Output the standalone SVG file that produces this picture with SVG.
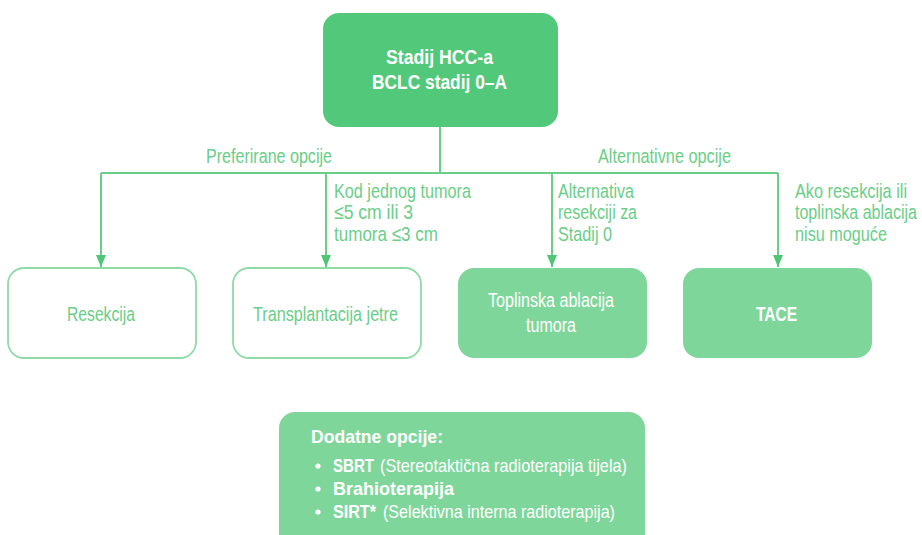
<svg xmlns="http://www.w3.org/2000/svg" width="922" height="535" viewBox="0 0 922 535">
<defs>
<marker id="arr" viewBox="0 0 12 10" refX="12" refY="5" markerWidth="12" markerHeight="10" markerUnits="userSpaceOnUse" orient="auto">
<path d="M0,0 L12,5 L0,10 z" fill="#4FC676"/>
</marker>
<style>
text{font-family:"Liberation Sans",Arial,sans-serif;}
.lbl{font-size:20.5px;fill:#6ACE88;}
.w{font-size:20.5px;fill:#ffffff;}
.wb{font-size:20.5px;fill:#ffffff;font-weight:bold;}
.g{font-size:20.5px;fill:#6ACE88;}
.s{font-size:19px;fill:#ffffff;}
.sb{font-size:19px;fill:#ffffff;font-weight:bold;}
.conn{stroke:#6ACE88;stroke-width:2;fill:none;}
.out{fill:#ffffff;stroke:#8EDBA6;stroke-width:1.8;}
.lt{fill:#7FD69B;}
</style>
</defs>
<rect width="922" height="535" fill="#ffffff"/>
<g id="connectors">
<path class="conn" d="M440,127 V173 M101,173 H778"/>
<path class="conn" d="M101,173 V267" marker-end="url(#arr)"/>
<path class="conn" d="M326,173 V267" marker-end="url(#arr)"/>
<path class="conn" d="M552,173 V267" marker-end="url(#arr)"/>
<path class="conn" d="M778,173 V267" marker-end="url(#arr)"/>
</g>
<g id="edge-labels">
<text class="lbl" x="206" y="163" textLength="126" lengthAdjust="spacingAndGlyphs">Preferirane opcije</text>
<text class="lbl" x="598" y="163" textLength="133" lengthAdjust="spacingAndGlyphs">Alternativne opcije</text>
<text class="lbl" x="334" y="198" textLength="137" lengthAdjust="spacingAndGlyphs">Kod jednog tumora</text>
<text class="lbl" x="334" y="219" textLength="79" lengthAdjust="spacingAndGlyphs">≤5 cm ili 3</text>
<text class="lbl" x="334" y="241" textLength="104" lengthAdjust="spacingAndGlyphs">tumora ≤3 cm</text>
<text class="lbl" x="558" y="198" textLength="76" lengthAdjust="spacingAndGlyphs">Alternativa</text>
<text class="lbl" x="558" y="219" textLength="79" lengthAdjust="spacingAndGlyphs">resekciji za</text>
<text class="lbl" x="558" y="241" textLength="54" lengthAdjust="spacingAndGlyphs">Stadij 0</text>
<text class="lbl" x="795" y="198" textLength="112" lengthAdjust="spacingAndGlyphs">Ako resekcija ili</text>
<text class="lbl" x="795" y="219" textLength="122" lengthAdjust="spacingAndGlyphs">toplinska ablacija</text>
<text class="lbl" x="795" y="241" textLength="92" lengthAdjust="spacingAndGlyphs">nisu moguće</text>
</g>
<g id="node-stage">
<rect x="323" y="13" width="235" height="114" rx="16" fill="#52C87A"/>
<text class="wb" x="386" y="64" textLength="107" lengthAdjust="spacingAndGlyphs">Stadij HCC-a</text>
<text class="wb" x="372" y="89" textLength="135" lengthAdjust="spacingAndGlyphs">BCLC stadij 0–A</text>
</g>
<g id="node-resekcija">
<rect class="out" x="8" y="268" width="188" height="90" rx="16"/>
<text class="g" x="67" y="321" textLength="68" lengthAdjust="spacingAndGlyphs">Resekcija</text>
</g>
<g id="node-transplantacija">
<rect class="out" x="233" y="268" width="188" height="90" rx="16"/>
<text class="g" x="253" y="321" textLength="145" lengthAdjust="spacingAndGlyphs">Transplantacija jetre</text>
</g>
<g id="node-ablacija">
<rect class="lt" x="458" y="268" width="189" height="90" rx="16"/>
<text class="w" x="488" y="307" textLength="126" lengthAdjust="spacingAndGlyphs">Toplinska ablacija</text>
<text class="w" x="526" y="332" textLength="50" lengthAdjust="spacingAndGlyphs">tumora</text>
</g>
<g id="node-tace">
<rect class="lt" x="683" y="268" width="189" height="90" rx="16"/>
<text class="wb" x="756" y="321" textLength="41" lengthAdjust="spacingAndGlyphs">TACE</text>
</g>
<g id="node-dodatne">
<rect class="lt" x="279" y="412" width="366" height="150" rx="16"/>
<text class="sb" x="311" y="443" textLength="132" lengthAdjust="spacingAndGlyphs">Dodatne opcije:</text>
<circle cx="318" cy="466" r="2.6" fill="#ffffff"/>
<circle cx="318" cy="489" r="2.6" fill="#ffffff"/>
<circle cx="318" cy="512" r="2.6" fill="#ffffff"/>
<text class="sb" x="333" y="472" textLength="41" lengthAdjust="spacingAndGlyphs">SBRT</text>
<text class="s" x="380" y="472" textLength="247" lengthAdjust="spacingAndGlyphs">(Stereotaktična radioterapija tijela)</text>
<text class="sb" x="333" y="495" textLength="121" lengthAdjust="spacingAndGlyphs">Brahioterapija</text>
<text class="sb" x="333" y="518" textLength="43" lengthAdjust="spacingAndGlyphs">SIRT*</text>
<text class="s" x="383" y="518" textLength="232" lengthAdjust="spacingAndGlyphs">(Selektivna interna radioterapija)</text>
</g>
</svg>
